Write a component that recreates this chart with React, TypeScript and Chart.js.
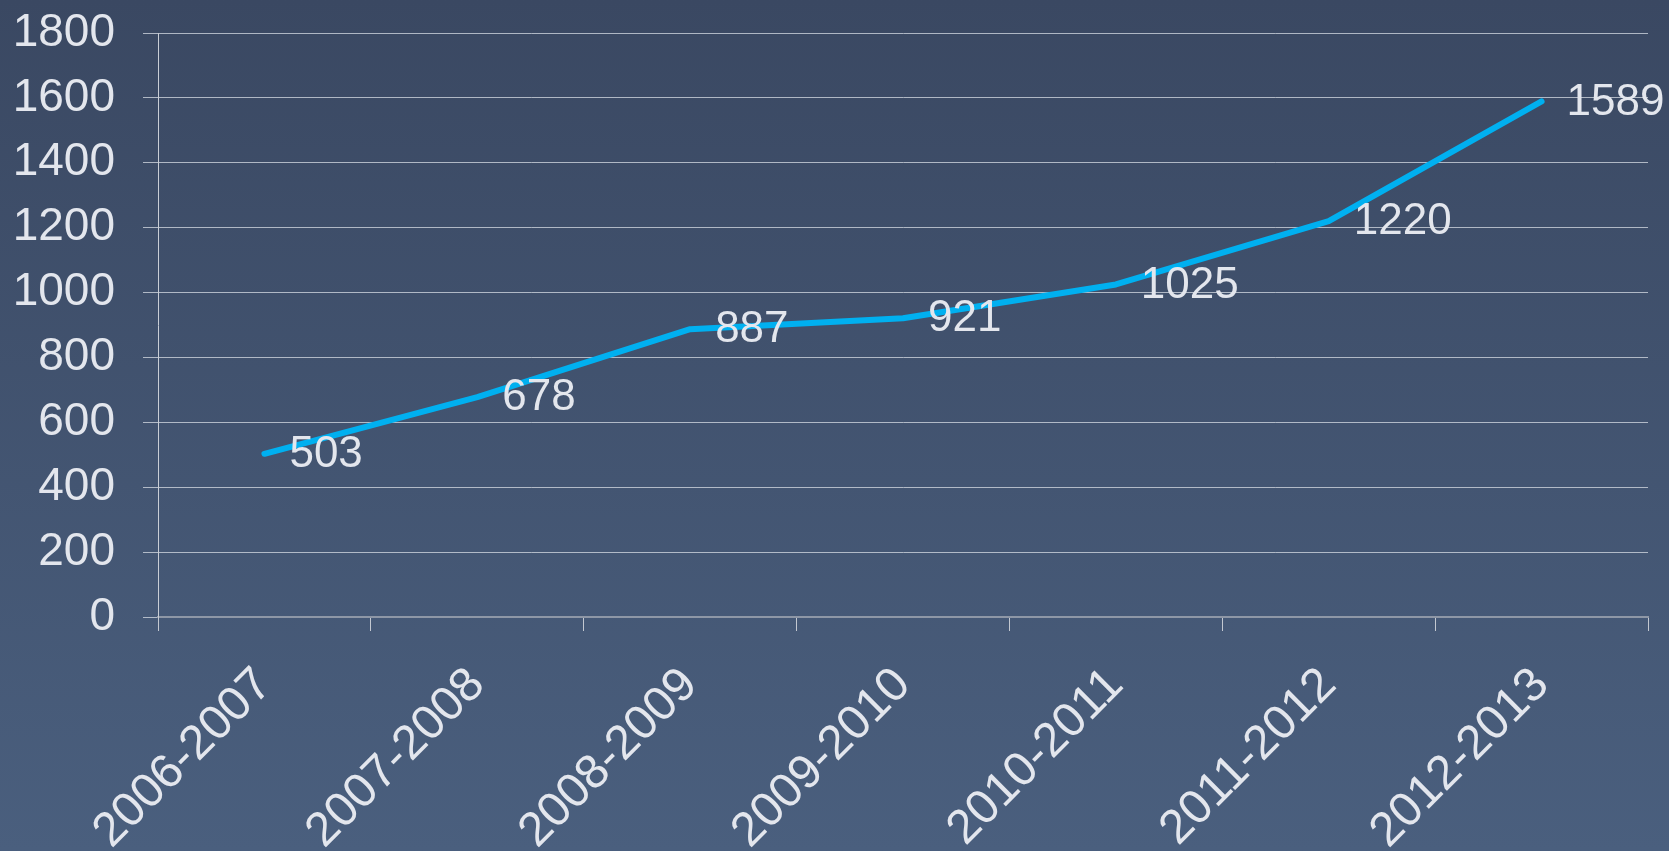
import React, { useEffect, useRef } from "react";
import { Chart, registerables } from "chart.js";

Chart.register(...registerables);

const categories = ["2006-2007", "2007-2008", "2008-2009", "2009-2010", "2010-2011", "2011-2012", "2012-2013"];
const values = [503, 678, 887, 921, 1025, 1220, 1589];
const yTicks = [0, 200, 400, 600, 800, 1000, 1200, 1400, 1600, 1800];

const FONT = "'Liberation Sans', Arial, sans-serif";
const TEXT = "#e3e6ed";

const labelPlugin = {
  id: "valueLabels",
  afterDatasetsDraw(chart: any) {
    const ctx = chart.ctx;
    const meta = chart.getDatasetMeta(0);
    ctx.save();
    ctx.font = `44px ${FONT}`;
    ctx.fillStyle = TEXT;
    ctx.textAlign = "left";
    ctx.textBaseline = "middle";
    meta.data.forEach((pt: any, i: number) => {
      ctx.fillText(String(values[i]), pt.x + 25, pt.y + 1);
    });
    ctx.restore();
  },
};

export default function App() {
  const ref = useRef<HTMLCanvasElement>(null);
  useEffect(() => {
    document.body.style.margin = "0";
    const chart = new Chart(ref.current!, {
      type: "line",
      data: {
        labels: categories,
        datasets: [
          {
            data: values,
            borderColor: "#00b0f0",
            borderWidth: 6,
            pointRadius: 0,
            tension: 0,
            fill: false,
            borderCapStyle: "round",
            borderJoinStyle: "round",
          },
        ],
      },
      options: {
        responsive: false,
        animation: false,
        layout: { padding: { top: 33, right: 21, left: 0, bottom: 0 } },
        plugins: { legend: { display: false }, tooltip: { enabled: false } },
        scales: {
          x: {
            offset: true,
            grid: {
              offset: true,
              drawOnChartArea: false,
              drawTicks: true,
              tickLength: 14,
              color: "#c3c8d1",
              lineWidth: 1,
            },
            border: { display: true, color: "#8e97a6", width: 2 },
            ticks: {
              minRotation: 45,
              maxRotation: 45,
              autoSkip: false,
              color: TEXT,
              font: { family: FONT, size: 48 },
              padding: 26,
            },
            afterFit(scale: any) {
              scale.height = 234;
              scale.paddingLeft = 0;
              scale.paddingRight = 0;
            },
          },
          y: {
            min: 0,
            max: 1800,
            afterBuildTicks(scale: any) {
              scale.ticks = yTicks.map((v) => ({ value: v }));
            },
            grid: {
              color: "rgba(215,220,228,0.75)",
              lineWidth: 1,
              tickLength: 15,
            },
            border: { display: true, color: "#c9ced6", width: 1 },
            ticks: {
              color: TEXT,
              font: { family: FONT, size: 46 },
              padding: 28,
              callback: (v: any) => String(v),
            },
            afterFit(scale: any) {
              scale.width = 158;
              scale.paddingTop = 0;
              scale.paddingBottom = 0;
            },
          },
        },
      },
      plugins: [labelPlugin],
    });
    return () => chart.destroy();
  }, []);
  return (
    <div
      style={{
        position: "fixed",
        left: 0,
        top: 0,
        width: 1669,
        height: 851,
        background: "linear-gradient(to bottom, #3a4862 0%, #4a5f7e 100%)",
        overflow: "hidden",
      }}
    >
      <canvas ref={ref} width={1669} height={851} style={{ display: "block", width: 1669, height: 851 }} />
    </div>
  );
}
